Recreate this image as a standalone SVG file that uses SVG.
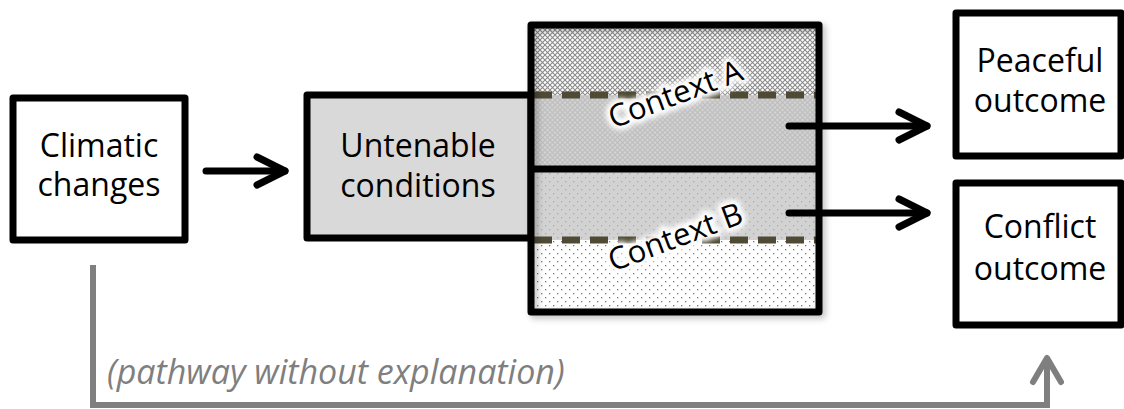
<svg xmlns="http://www.w3.org/2000/svg" width="1124" height="409" viewBox="0 0 1124 409">
  <style>
    .box { fill: #ffffff; stroke: #000000; stroke-width: 7; stroke-linejoin: round; }
    .label { font-family: "Open Sans", "Liberation Sans", sans-serif; font-size: 32px; fill: #000000; text-anchor: middle; }
    .ctx { font-family: "Open Sans", "Liberation Sans", sans-serif; font-size: 31px; text-anchor: middle; }
    .ctx-glow { fill: #ffffff; stroke: #ffffff; stroke-width: 9; stroke-linejoin: round; }
    .edge { fill: none; stroke: #000000; stroke-width: 7; stroke-linecap: round; }
    .grey-edge { fill: none; stroke: #7f7f7f; stroke-width: 6; stroke-linejoin: miter; }
    .boundary { fill: none; stroke: #4e4a33; stroke-width: 7; stroke-dasharray: 18 10; }
    .note { font-family: "Open Sans", "Liberation Sans", sans-serif; font-style: italic; font-size: 34px; fill: #7f7f7f; }
  </style>
  <defs>
    <pattern id="hatch-dark" width="5" height="5" patternUnits="userSpaceOnUse">
      <rect width="5" height="5" fill="#ffffff"/>
      <path d="M0,0 L5,5 M5,0 L0,5" stroke="#8a8a8a" stroke-width="1.1"/>
    </pattern>
    <pattern id="hatch-light" width="5" height="5" patternUnits="userSpaceOnUse">
      <rect width="5" height="5" fill="#d2d2d2"/>
      <path d="M0,0 L5,5 M5,0 L0,5" stroke="#bdbdbd" stroke-width="1.1"/>
    </pattern>
    <pattern id="dots-grey" width="8" height="8" patternUnits="userSpaceOnUse">
      <rect width="8" height="8" fill="#d2d2d2"/>
      <rect x="1" y="1" width="1.3" height="1.3" fill="#ababab"/>
      <rect x="5" y="5" width="1.3" height="1.3" fill="#ababab"/>
    </pattern>
    <pattern id="dots-white" width="8" height="8" patternUnits="userSpaceOnUse">
      <rect width="8" height="8" fill="#ffffff"/>
      <rect x="1" y="1" width="1.3" height="1.3" fill="#7a7a7a"/>
      <rect x="5" y="5" width="1.3" height="1.3" fill="#7a7a7a"/>
    </pattern>
    <filter id="glow" x="-20%" y="-50%" width="140%" height="200%">
      <feGaussianBlur stdDeviation="2.5"/>
    </filter>
    <filter id="shadow" x="-10%" y="-10%" width="125%" height="125%">
      <feDropShadow dx="3" dy="3" stdDeviation="3" flood-color="#000000" flood-opacity="0.25"/>
    </filter>
    <marker id="head" markerUnits="userSpaceOnUse" markerWidth="40" markerHeight="40" refX="0" refY="0" orient="auto" overflow="visible">
      <path d="M-28,-14 L0,0 L-28,14" fill="none" stroke="#000000" stroke-width="7" stroke-linecap="round" stroke-linejoin="round"/>
    </marker>
    <marker id="head-grey" markerUnits="userSpaceOnUse" markerWidth="40" markerHeight="40" refX="0" refY="0" orient="auto" overflow="visible">
      <path d="M-24,-14 L0,0 L-24,14" fill="none" stroke="#7f7f7f" stroke-width="6" stroke-linecap="round" stroke-linejoin="round"/>
    </marker>
  </defs>

  <g id="climatic-changes">
    <rect class="box" x="13" y="98" width="172" height="142"/>
    <text class="label" x="99" y="157">Climatic</text>
    <text class="label" x="99" y="196">changes</text>
  </g>

  <g id="untenable-conditions">
    <rect class="box" x="307" y="95" width="224" height="143" style="fill:#d9d9d9"/>
    <text class="label" x="418" y="157">Untenable</text>
    <text class="label" x="418" y="197">conditions</text>
  </g>

  <g id="contexts">
    <!-- four bands: outside A, inside A, inside B, outside B -->
    <rect x="531" y="25" width="288" height="70" fill="url(#hatch-dark)"/>
    <rect x="531" y="95" width="288" height="74" fill="url(#hatch-light)"/>
    <rect x="531" y="169" width="288" height="71" fill="url(#dots-grey)"/>
    <rect x="531" y="240" width="288" height="72" fill="url(#dots-white)"/>
    <line class="boundary" x1="534" y1="95" x2="816" y2="95"/>
    <line class="boundary" x1="534" y1="240" x2="816" y2="240"/>
    <g id="context-a" transform="rotate(-20.6 679 104)">
      <text class="ctx ctx-glow" x="679" y="104" filter="url(#glow)">Context A</text>
      <text class="ctx" x="679" y="104" fill="#000000">Context A</text>
    </g>
    <g id="context-b" transform="rotate(-20.6 679 247)">
      <text class="ctx ctx-glow" x="679" y="247" filter="url(#glow)">Context B</text>
      <text class="ctx" x="679" y="247" fill="#000000">Context B</text>
    </g>
    <line x1="531" y1="169" x2="819" y2="169" stroke="#000000" stroke-width="7"/>
    <rect x="531" y="25" width="288" height="287" fill="none" stroke="#000000" stroke-width="7" stroke-linejoin="round" filter="url(#shadow)"/>
  </g>

  <g id="peaceful-outcome">
    <rect class="box" x="956" y="13" width="165" height="143"/>
    <text class="label" x="1040" y="72">Peaceful</text>
    <text class="label" x="1040" y="112">outcome</text>
  </g>

  <g id="conflict-outcome">
    <rect class="box" x="956" y="183" width="165" height="142"/>
    <text class="label" x="1040" y="238">Conflict</text>
    <text class="label" x="1040" y="280">outcome</text>
  </g>

  <g id="connectors">
    <line class="edge" x1="206" y1="171" x2="285" y2="171" stroke-linecap="butt" marker-end="url(#head)"/>
    <line class="edge" x1="789" y1="126" x2="927" y2="126" stroke-linecap="butt" marker-end="url(#head)"/>
    <line class="edge" x1="789" y1="213" x2="927" y2="213" stroke-linecap="butt" marker-end="url(#head)"/>
    <path class="grey-edge" d="M93,265 V405 H1047 V358" marker-end="url(#head-grey)"/>
    <text class="note" x="107" y="384">(pathway without explanation)</text>
  </g>
</svg>
